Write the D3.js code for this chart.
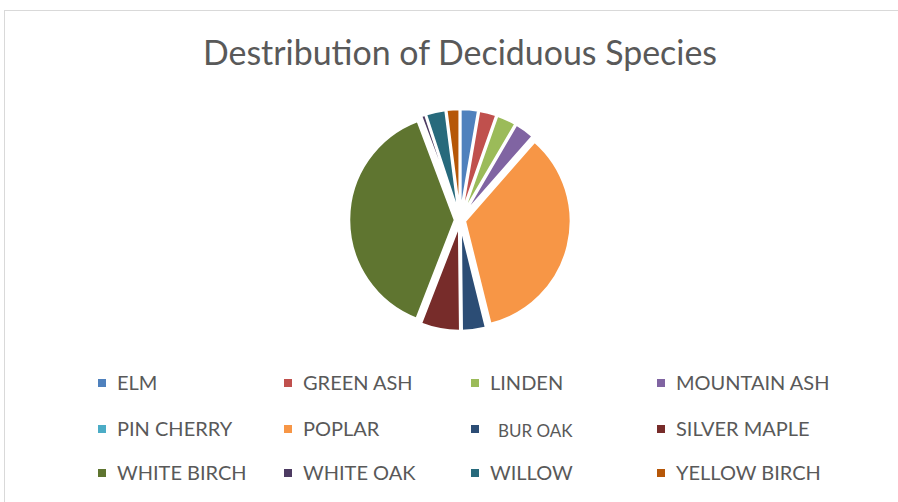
<!DOCTYPE html>
<html>
<head>
<meta charset="utf-8">
<script src="https://cdn.jsdelivr.net/npm/d3@7"></script>
<style>
  html, body { margin: 0; padding: 0; background: #fff; }
  svg { display: block; }
</style>
</head>
<body>
<svg id="chart" width="898" height="502"></svg>
<script>
const categories = ["ELM", "GREEN ASH", "LINDEN", "MOUNTAIN ASH", "PIN CHERRY", "POPLAR",
                    "BUR OAK", "SILVER MAPLE", "WHITE BIRCH", "WHITE OAK", "WILLOW", "YELLOW BIRCH"];
const values = [8, 8, 9, 9, 0, 103, 11, 18, 114, 2, 9, 6];
const colors = ["#4F81BD", "#C0504D", "#9BBB59", "#8064A2", "#4BACC6", "#F79646",
                "#2C4D75", "#772C2A", "#5F7530", "#4D3B62", "#276A7C", "#B65708"];
const title = "Destribution of Deciduous Species";

const svg = d3.select("#chart");
const W = 898, H = 502;

// chart area border
svg.append("rect")
  .attr("x", 4.5).attr("y", 10.5)
  .attr("width", W + 10).attr("height", H + 10)
  .attr("fill", "#fff").attr("stroke", "#d9d9d9").attr("stroke-width", 1);

// title
svg.append("text")
  .attr("x", 460).attr("y", 65)
  .attr("text-anchor", "middle")
  .attr("font-family", "Lato, 'Open Sans', sans-serif")
  .attr("font-weight", 400)
  .attr("font-size", 35)
  .attr("textLength", 514)
  .attr("lengthAdjust", "spacingAndGlyphs")
  .attr("fill", "#595959")
  .text(title);

// pie
const cx = 460, cy = 220, r = 106, explode = 5;
const data = categories.map((c, i) => ({ name: c, value: values[i], color: colors[i] }));
const pie = d3.pie().sort(null).value(d => d.value);
const arc = d3.arc().innerRadius(0).outerRadius(r);
const g = svg.append("g").attr("transform", `translate(${cx},${cy})`);
g.selectAll("path")
  .data(pie(data).filter(d => d.data.value > 0))
  .join("path")
  .attr("transform", d => {
    const a = (d.startAngle + d.endAngle) / 2;
    return `translate(${explode * Math.sin(a)},${-explode * Math.cos(a)})`;
  })
  .attr("d", arc)
  .attr("fill", d => d.data.color)
  .attr("stroke", "#fff")
  .attr("stroke-width", 2.5)
  .attr("stroke-linejoin", "round");

// legend
const colX = [98, 284, 471, 657];
const rowY = [383, 429, 473];
const lg = svg.append("g");
data.forEach((d, i) => {
  const col = i % 4, row = Math.floor(i / 4);
  const x = colX[col], y = rowY[row];
  lg.append("rect")
    .attr("x", x).attr("y", y - 4)
    .attr("width", 8).attr("height", 8)
    .attr("fill", d.color);
  const isBur = d.name === "BUR OAK";
  lg.append("text")
    .attr("x", isBur ? x + 27 : x + 19)
    .attr("y", isBur ? y + 2 : y)
    .attr("dy", "0.35em")
    .attr("font-family", "Lato, 'Open Sans', sans-serif")
    .attr("font-size", isBur ? 17 : 20)
    .attr("fill", "#595959")
    .text(d.name);
});
</script>
</body>
</html>
